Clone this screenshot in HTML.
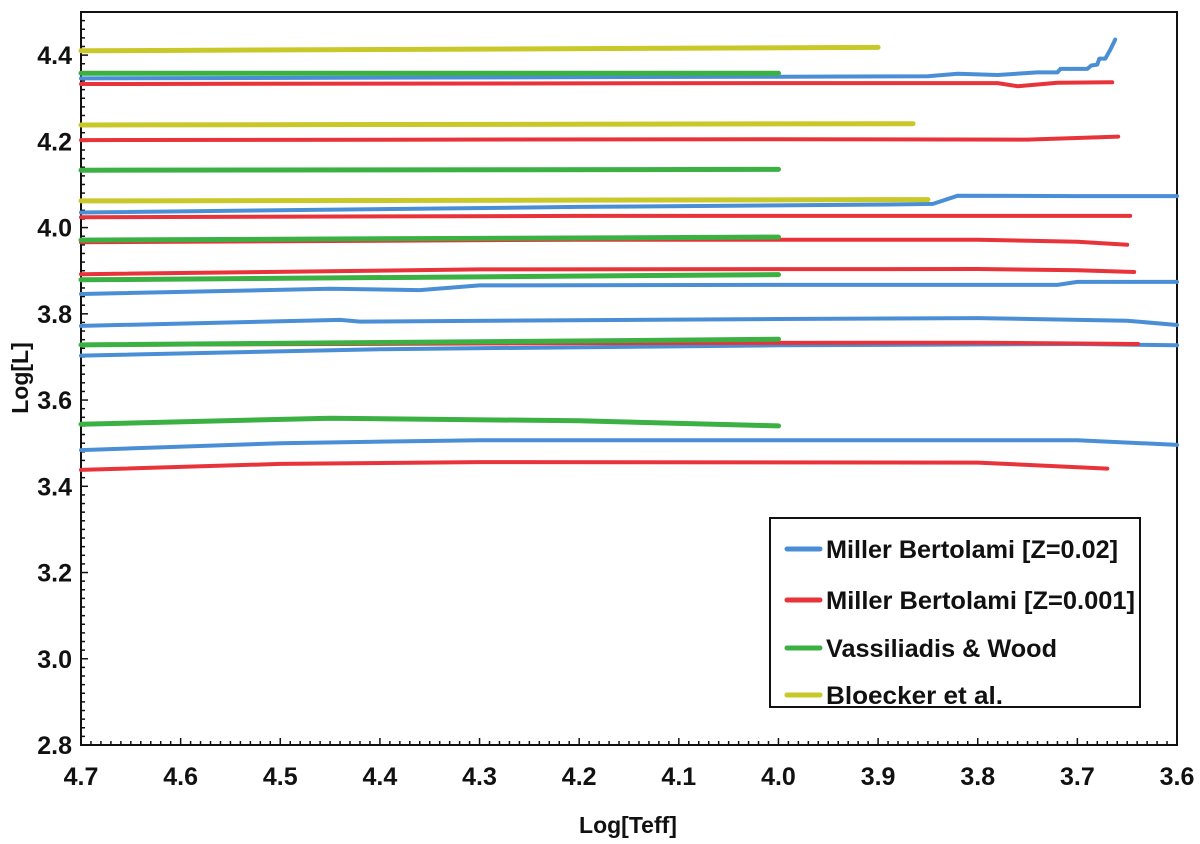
<!DOCTYPE html>
<html><head><meta charset="utf-8"><style>
html,body{margin:0;padding:0;background:#fff;}
svg{display:block;font-family:"Liberation Sans",sans-serif;}
</style></head><body>
<svg id="chart" width="1200" height="844">
<g id="grid"></g>
<g id="series"></g>
<g id="legend"></g>
</svg>
<script>
const xTicks=[4.7,4.6,4.5,4.4,4.3,4.2,4.1,4.0,3.9,3.8,3.7,3.6];
const yTicks=[2.8,3.0,3.2,3.4,3.6,3.8,4.0,4.2,4.4];
const blueTracks=[
 [[4.7,4.346],[4.0,4.350],[3.85,4.351],[3.82,4.357],[3.78,4.354],[3.74,4.360],[3.72,4.360],[3.717,4.368],[3.69,4.368],[3.686,4.376],[3.68,4.378],[3.678,4.392],[3.672,4.392],[3.667,4.412],[3.662,4.436]],
 [[4.7,4.035],[4.2,4.048],[3.87,4.054],[3.845,4.055],[3.82,4.074],[3.7,4.073],[3.6,4.073]],
 [[4.7,3.846],[4.45,3.858],[4.36,3.855],[4.3,3.866],[4.0,3.867],[3.72,3.867],[3.70,3.874],[3.6,3.874]],
 [[4.7,3.772],[4.44,3.786],[4.42,3.782],[4.0,3.788],[3.8,3.790],[3.65,3.784],[3.6,3.774]],
 [[4.7,3.703],[4.4,3.718],[4.0,3.727],[3.7,3.730],[3.6,3.727]],
 [[4.7,3.484],[4.5,3.500],[4.3,3.507],[3.7,3.507],[3.6,3.496]]
];
const redTracks=[
 [[4.7,4.333],[4.0,4.335],[3.78,4.335],[3.76,4.328],[3.72,4.336],[3.665,4.337]],
 [[4.7,4.203],[4.0,4.205],[3.75,4.204],[3.659,4.211]],
 [[4.7,4.024],[4.2,4.027],[3.647,4.027]],
 [[4.7,3.966],[4.2,3.972],[3.8,3.972],[3.7,3.967],[3.65,3.960]],
 [[4.7,3.892],[4.3,3.903],[3.8,3.904],[3.7,3.901],[3.643,3.897]],
 [[4.7,3.728],[4.2,3.732],[3.8,3.733],[3.639,3.730]],
 [[4.7,3.438],[4.5,3.452],[4.3,3.456],[3.8,3.455],[3.67,3.441]]
];
const greenTracks=[
 [[4.7,4.358],[4.0,4.358]],
 [[4.7,4.133],[4.0,4.135]],
 [[4.7,3.971],[4.0,3.978]],
 [[4.7,3.879],[4.0,3.891]],
 [[4.7,3.728],[4.0,3.741]],
 [[4.7,3.544],[4.45,3.558],[4.2,3.552],[4.0,3.540]]
];
const yellowTracks=[
 [[4.7,4.410],[3.90,4.418]],
 [[4.7,4.238],[3.865,4.241]],
 [[4.7,4.062],[3.85,4.065]]
];
const seriesNames=["Miller Bertolami [Z=0.02]","Miller Bertolami [Z=0.001]","Vassiliadis & Wood","Bloecker et al."];
const seriesColors=["#4a8fd6","#e8333a","#3bb043","#c9c829"];
const legendWidths=[292,309,231,177];
const NS="http://www.w3.org/2000/svg";
const L=81,R=1177,T=12,B=745;
function xs(v){return L+(4.7-v)/1.1*(R-L);}
function ys(v){return B-(v-2.8)/1.7*(B-T);}
function mk(tag,attrs,parent){const e=document.createElementNS(NS,tag);for(const k in attrs)e.setAttribute(k,attrs[k]);parent.appendChild(e);return e;}
const g=document.getElementById('grid');
const frame=mk('rect',{x:L,y:T,width:R-L,height:B-T,fill:'none',stroke:'#111','stroke-width':2},g);


for(let i=0;i<=110;i++){const v=4.7-i*0.01;const major=i%10===0;
 const t=mk('line',{x1:xs(v),x2:xs(v),y1:B,y2:B-(major?7:4),stroke:'#111','stroke-width':1.5},g);
 
 }
for(let i=0;i<=85;i++){const v=2.8+i*0.02;const major=i%10===0;
 const t=mk('line',{x1:L,x2:L+(major?7:4),y1:ys(v),y2:ys(v),stroke:'#111','stroke-width':1.5},g);
 
 }
xTicks.forEach(v=>{const t=mk('text',{x:xs(v),y:785,'text-anchor':'middle','font-size':25,'font-weight':'bold',fill:'#111'},g);t.textContent=v.toFixed(1);
 
 });
yTicks.forEach(v=>{const t=mk('text',{x:72,y:ys(v)+9,'text-anchor':'end','font-size':25,'font-weight':'bold',fill:'#111'},g);t.textContent=v.toFixed(1);
 
 });
const xt=mk('text',{x:628,y:833,'text-anchor':'middle','font-size':23,'font-weight':'bold',fill:'#111'},g);xt.textContent='Log[Teff]';


const yt=mk('text',{x:0,y:0,'text-anchor':'middle','font-size':23,'font-weight':'bold',fill:'#111',transform:'translate(28,378) rotate(-90)'},g);yt.textContent='Log[L]';


const sg=document.getElementById('series');
const all=[blueTracks,redTracks,greenTracks,yellowTracks];
const names=['blue-track','red-track','green-track','yellow-track'];
all.forEach((tracks,si)=>{tracks.forEach(tr=>{
 const p=mk('polyline',{points:tr.map(q=>xs(q[0]).toFixed(1)+','+ys(q[1]).toFixed(1)).join(' '),fill:'none',stroke:seriesColors[si],'stroke-width':si>=2?5:4,'stroke-linecap':'round','stroke-linejoin':'round'},sg);
 
 
});});
const lg=document.getElementById('legend');
const box=mk('rect',{x:770,y:518,width:370,height:189,fill:'#fff',stroke:'#111','stroke-width':2},lg);


const ly=[549,600,648,695];
seriesNames.forEach((n,i)=>{
 const ln=mk('line',{x1:787,x2:820,y1:ly[i],y2:ly[i],stroke:seriesColors[i],'stroke-width':5,'stroke-linecap':'round'},lg);
 
 
 const t=mk('text',{x:826,y:ly[i]+9,'font-size':25,'font-weight':'bold',fill:'#111',textLength:legendWidths[i],lengthAdjust:'spacingAndGlyphs'},lg);
 t.textContent=n;
 
 
});
</script>
</body></html>
